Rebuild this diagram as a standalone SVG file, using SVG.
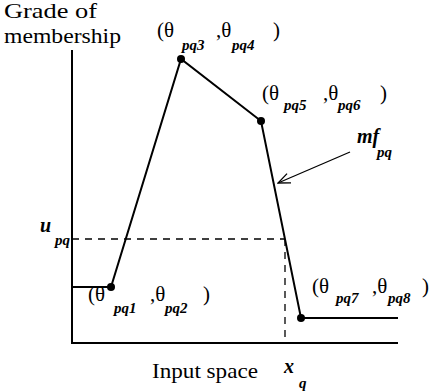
<svg xmlns="http://www.w3.org/2000/svg" width="434" height="392" viewBox="0 0 434 392" font-family="Liberation Serif, Tinos, Times New Roman, Times, Noto Serif, DejaVu Serif, serif">
<style>
.t{font-size:21px}
.s{font-size:15px;font-style:italic;font-weight:bold}
.b{font-size:20px;font-style:italic;font-weight:bold}
.ln{stroke:#000;stroke-width:2;fill:none}
.ds{stroke:#000;stroke-width:1.3;fill:none;stroke-dasharray:7,6}
</style>
<defs>
<marker id="ah" markerWidth="14" markerHeight="12" refX="13" refY="6" orient="auto" markerUnits="userSpaceOnUse">
<path d="M1,1 L13,6 L1,11" stroke="#000" stroke-width="1.3" fill="none"/>
</marker>
</defs>
<rect width="434" height="392" fill="#fff"/>
<g id="axes">
<path class="ln" d="M72,50 V343 H398"/>
</g>
<g id="guides">
<path class="ds" d="M72,239 H285"/>
<path class="ds" d="M285,239 V343"/>
</g>
<g id="connectors">
<path id="mf" class="ln" d="M72,287 H111 L181,59 L261,121 L301,318 H398"/>
<line x1="350" y1="152" x2="278" y2="183" stroke="#000" stroke-width="1.3" marker-end="url(#ah)"/>
</g>
<g id="p1"><circle cx="111" cy="287" r="4"/>
<text class="t" x="88" y="301">(θ</text><text class="s" x="114" y="313">pq1</text><text class="t" x="150" y="301">,θ</text><text class="s" x="165" y="313">pq2</text><text class="t" x="203" y="301">)</text></g>
<g id="p3"><circle cx="181" cy="59" r="4"/>
<text class="t" x="157" y="37">(θ</text><text class="s" x="182" y="50">pq3</text><text class="t" x="216" y="37">,θ</text><text class="s" x="232" y="50">pq4</text><text class="t" x="273" y="37">)</text></g>
<g id="p5"><circle cx="261" cy="121" r="4"/>
<text class="t" x="262" y="100">(θ</text><text class="s" x="284" y="110">pq5</text><text class="t" x="323" y="100">,θ</text><text class="s" x="338" y="110">pq6</text><text class="t" x="380" y="100">)</text></g>
<g id="p7"><circle cx="301" cy="318" r="4"/>
<text class="t" x="312" y="293">(θ</text><text class="s" x="336" y="303">pq7</text><text class="t" x="372" y="293">,θ</text><text class="s" x="388" y="303">pq8</text><text class="t" x="422" y="293">)</text></g>
<g id="labels">
<text class="t" x="4" y="18" textLength="93" lengthAdjust="spacingAndGlyphs">Grade of</text>
<text class="t" x="4" y="43" textLength="117" lengthAdjust="spacingAndGlyphs">membership</text>
<text class="t" x="152" y="378" textLength="106" lengthAdjust="spacingAndGlyphs">Input space</text>
<text class="b" x="284" y="373">x</text><text class="s" x="299" y="388">q</text>
<text class="b" x="40" y="232">u</text><text class="s" x="55" y="245">pq</text>
<text class="b" x="357" y="143">mf</text><text class="s" x="377" y="157">pq</text>
</g>
</svg>
